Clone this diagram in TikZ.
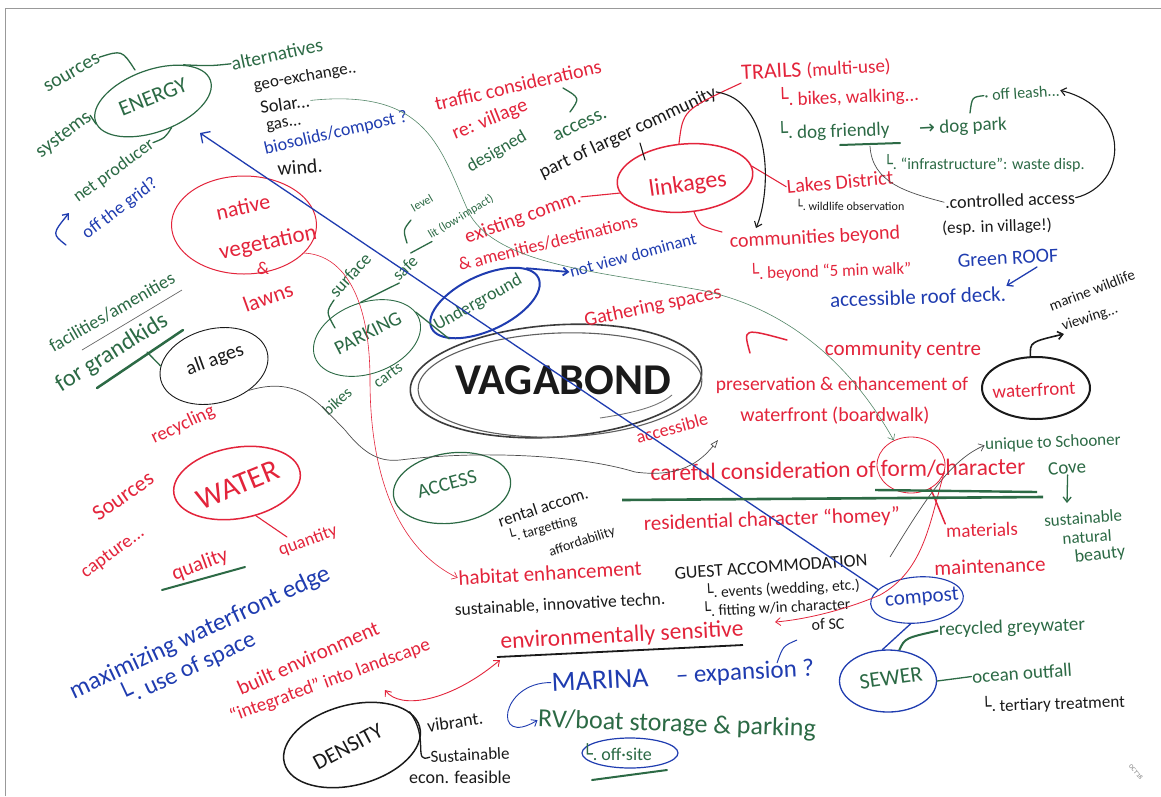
\documentclass[tikz,border=0pt]{standalone}
\usepackage{fontspec}
\setmainfont{Carlito}
\newfontfamily\dv{DejaVu Sans}
\usetikzlibrary{shapes.geometric,arrows.meta}
\definecolor{cR}{HTML}{E3243B}
\definecolor{cG}{HTML}{2C6A45}
\definecolor{cB}{HTML}{1F3CB0}
\definecolor{cK}{HTML}{1A1A1A}
\newcommand\fs[1]{\fontsize{#1}{#1}\selectfont}
\newcommand\subL{{\dv └}.}
\tikzset{
  txt/.style={inner sep=0.5pt},
  tR/.style={txt,text=cR}, tG/.style={txt,text=cG},
  tB/.style={txt,text=cB}, tK/.style={txt,text=cK},
  ell/.style={ellipse,inner sep=0pt},
  lR/.style={draw=cR,line width=1.1pt,line cap=round},
  lG/.style={draw=cG,line width=1.3pt,line cap=round},
  lB/.style={draw=cB,line width=1.3pt,line cap=round},
  lK/.style={draw=cK,line width=1.1pt,line cap=round},
  thinR/.style={draw=cR,line width=0.6pt},
  thinG/.style={draw=cG!80!white,line width=0.6pt},
  thinK/.style={draw=black!70,line width=0.7pt},
  arr/.style={-{Straight Barb[length=5pt,width=8pt]}},
  barr/.style={{Straight Barb[length=5pt,width=8pt]}-{Straight Barb[length=5pt,width=8pt]}},
}
\begin{document}
\begin{tikzpicture}[x=1pt,y=-1pt]
\useasboundingbox (0,0) rectangle (1161,796);
\fill[white] (0,0) rectangle (1161,796);
\draw[black!40,line width=1pt] (5,796) -- (5,8) -- (1161,8);

% ---------- ellipses ----------
\node[ell,draw=cG,line width=1.2pt,rotate=20,minimum width=122,minimum height=62] (eEnergy) at (153,101) {};
\node[ell,draw=cR,line width=1pt,minimum width=145,minimum height=98] (eNative) at (244,225) {};
\node[ell,draw=cK,line width=0.9pt,rotate=15,minimum width=110,minimum height=74] (eAll) at (214,366) {};
\node[ell,draw=cG,line width=0.9pt,rotate=20,minimum width=111,minimum height=71] (ePark) at (367,338) {};
\node[ell,draw=cB,line width=2pt,rotate=25,minimum width=118,minimum height=55] (eUnder) at (485,303) {};
\node[ell,draw=cK!85,line width=1.6pt,rotate=4,minimum width=292,minimum height=112] (eVag) at (556,381) {};
\draw[cK!70,line width=1.1pt,rotate around={2:(560,385)}] (560,385) ellipse [x radius=142, y radius=52];
\draw[cK!60,line width=0.9pt] (600,418) .. controls (640,412) and (660,405) .. (672,395);
\node[ell,draw=cR,line width=1.5pt,rotate=5,minimum width=136,minimum height=68] (eLink) at (685,178) {};
\node[ell,draw=cG,line width=1.2pt,rotate=8,minimum width=118,minimum height=70] (eAccess) at (452,488) {};
\node[ell,draw=cR,line width=1.5pt,rotate=10,minimum width=128,minimum height=71] (eWater) at (237,483) {};
\node[ell,draw=cK,line width=1.5pt,rotate=15,minimum width=140,minimum height=80] (eDens) at (352,745) {};
\node[ell,draw=cK,line width=2pt,minimum width=108,minimum height=62] (eWf) at (1036,388) {};
\node[ell,draw=cR,line width=0.8pt,minimum width=68,minimum height=56] (eForm) at (911,465) {};
\node[ell,draw=cB,line width=1.1pt,rotate=5,minimum width=93,minimum height=46] (eComp) at (917,600) {};
\node[ell,draw=cB,line width=1.3pt,minimum width=97,minimum height=62] (eSewer) at (888,681) {};
\node[ell,draw=cB,line width=1.2pt,minimum width=96,minimum height=30] (eOff) at (630,753) {};

% ---------- text: top left ----------
\node[tG,font=\fs{22},rotate=22] (tEnergy) at (153,97) {ENERGY};
\node[tG,font=\fs{20},rotate=30] (tSourcesG) at (72,73) {sources};
\node[tG,font=\fs{19.5},rotate=12] (tAlt) at (277,54) {alternatives};
\node[tG,font=\fs{20},rotate=37] (tSystems) at (64,135) {systems};
\node[tG,font=\fs{18},rotate=36] (tNet) at (114,171) {net producer};
\node[tB,font=\fs{18},rotate=37] (tGrid) at (120,209) {off the grid?};
\node[tK,font=\fs{17},rotate=10] (tGeo) at (305,77) {geo-exchange..};
\node[tK,font=\fs{18.5},rotate=8] (tSolar) at (285,104) {Solar...};
\node[tK,font=\fs{17},rotate=10] (tGas) at (284,125) {gas...};
\node[tB,font=\fs{18},rotate=13] (tBio) at (336,133) {biosolids/compost ?};
\node[tK,font=\fs{20},rotate=5] (tWind) at (300,167) {wind.};
\node[tR,font=\fs{22},rotate=12] (tNative) at (243,207) {native};
\node[tR,font=\fs{23},rotate=12] (tVeg) at (268,243) {vegetation};
\node[tR,font=\fs{18}] (tAmp) at (263,268) {\&};
\node[tR,font=\fs{22},rotate=20] (tLawns) at (268,297) {lawns};
\node[tG,font=\fs{18.5},rotate=30] (tFac) at (112,312) {facilities/amenities};
\node[tG,font=\fs{24},rotate=32] (tGrand) at (112,353) {for grandkids};
\node[tK,font=\fs{20},rotate=20] (tAll) at (215,360) {all ages};
\node[tR,font=\fs{19},rotate=25] (tRecyc) at (183,425) {recycling};
\node[tR,font=\fs{22},rotate=35] (tSourcesR) at (123,496) {Sources};
\node[tR,font=\fs{19},rotate=36] (tCapt) at (113,553) {capture...};
\node[tR,font=\fs{30},rotate=22] (tWater) at (238,485) {WATER};
\node[tR,font=\fs{21},rotate=20] (tQual) at (200,565) {quality};
\node[tR,font=\fs{18},rotate=20] (tQuant) at (308,541) {quantity};
\node[tB,font=\fs{25},rotate=25] (tMax) at (200,633) {maximizing waterfront edge};
\node[tB,font=\fs{24},rotate=25] (tUse) at (187,667) {\subL\ use of space};
\node[tR,font=\fs{21},rotate=24] (tBuilt) at (308,658) {built environment};
\node[tR,font=\fs{19},rotate=20] (tInteg) at (330,681) {“integrated” into landscape};
\node[tK,font=\fs{22},rotate=28] (tDens) at (348,747) {DENSITY};
\node[tK,font=\fs{18},rotate=8] (tVib) at (455,722) {vibrant.};
\node[tK,font=\fs{17},rotate=3] (tSust) at (470,755) {Sustainable};
\node[tK,font=\fs{18}] (tEcon) at (460,777) {econ. feasible};

% ---------- centre ----------
\node[tK,font=\fs{44}\bfseries] (tVag) at (563,380) {VAGABOND};
\node[tG,font=\fs{20},rotate=15] (tAccess) at (447,484) {ACCESS};
\node[tG,font=\fs{20},rotate=27] (tPark) at (368,333) {PARKING};
\node[tG,font=\fs{18},rotate=48] (tSurf) at (350,275) {surface};
\node[tG,font=\fs{17},rotate=45] (tSafe) at (405,268) {safe};
\node[tG,font=\fs{12},rotate=30] (tLevel) at (422,203) {level};
\node[tG,font=\fs{12},rotate=31] (tLit) at (461,217) {lit (low·impact)};
\node[tG,font=\fs{18},rotate=29] (tUnder) at (478,303) {Underground};
\node[tG,font=\fs{16},rotate=36] (tCarts) at (388,375) {carts};
\node[tG,font=\fs{16},rotate=42] (tBikes) at (337,401) {bikes};
\node[tR,font=\fs{20},rotate=13] (tTraffic) at (518,85) {traffic considerations};
\node[tR,font=\fs{20},rotate=22] (tVillage) at (490,120) {re: village};
\node[tG,font=\fs{18},rotate=30] (tDesigned) at (497,152) {designed};
\node[tG,font=\fs{20},rotate=25] (tAccessS) at (580,125) {access.};
\node[tK,font=\fs{19},rotate=25] (tPart) at (628,133) {part of larger community};
\node[tR,font=\fs{24},rotate=8] (tLink) at (688,185) {linkages};
\node[tR,font=\fs{20},rotate=20] (tExist) at (523,218) {existing comm.};
\node[tR,font=\fs{18},rotate=14] (tAmen) at (548,243) {\& amenities/destinations};
\node[tB,font=\fs{17},rotate=15] (tNotView) at (633,255) {not view dominant};

% ---------- top right ----------
\node[tR,font=\fs{22},rotate=3] (tTrails) at (816,70) {TRAILS {\fs{19}(multi-use)}};
\node[tR,font=\fs{19},rotate=2] (tBikesW) at (848,96) {\subL\ bikes, walking...};
\node[tG,font=\fs{19},rotate=2] (tDog) at (833,130) {\subL\ dog friendly};
\node[tG,font=\fs{19},rotate=3] (tDogPark) at (963,127) {{\dv→} dog park};
\node[tG,font=\fs{16}] (tInfra) at (984,163) {\subL\ “infrastructure”: waste disp.};
\node[tG,font=\fs{16},rotate=4] (tLeash) at (1022,93) {· off leash...};
\node[tK,font=\fs{18},rotate=2] (tCtrl) at (1010,200) {.controlled access};
\node[tK,font=\fs{17},rotate=2] (tEsp) at (997,227) {(esp. in village!)};
\node[tR,font=\fs{20},rotate=5] (tLakes) at (840,182) {Lakes District};
\node[tK,font=\fs{12}] (tWild) at (850,205) {\subL\ wildlife observation};
\node[tR,font=\fs{20},rotate=3] (tCommB) at (815,238) {communities beyond};
\node[tR,font=\fs{17},rotate=2] (tBeyond) at (830,270) {\subL\ beyond “5 min walk”};
\node[tB,font=\fs{20},rotate=3] (tGreen) at (1008,258) {Green ROOF};
\node[tB,font=\fs{21},rotate=2] (tDeck) at (918,297) {accessible roof deck.};
\node[tK,font=\fs{15},rotate=21] (tMarine) at (1092,290) {marine wildlife};
\node[tK,font=\fs{15},rotate=18] (tView) at (1090,318) {viewing...};

% ---------- right middle ----------
\node[tR,font=\fs{20},rotate=12] (tGather) at (653,307) {Gathering spaces};
\node[tR,font=\fs{21}] (tCentre) at (903,350) {community centre};
\node[tR,font=\fs{19.5}] (tPres) at (842,385) {preservation \& enhancement of};
\node[tR,font=\fs{19},rotate=3] (tWf) at (1034,390) {waterfront};
\node[tR,font=\fs{18},rotate=15] (tAccessible) at (672,428) {accessible};
\node[tR,font=\fs{20}] (tBoard) at (835,416) {waterfront (boardwalk)};
\node[tR,font=\fs{23.5},rotate=1] (tCareful) at (838,470) {careful consideration of form/character};
\node[tR,font=\fs{21},rotate=2] (tResid) at (772,520) {residential character “homey”};
\node[tG,font=\fs{17},rotate=2] (tUnique) at (1053,443) {unique to Schooner};
\node[tG,font=\fs{19},rotate=5] (tCove) at (1067,468) {Cove};
\node[tG,font=\fs{17},rotate=4] (tSustN) at (1083,518) {sustainable};
\node[tG,font=\fs{17},rotate=4] (tNat) at (1087,537) {natural};
\node[tG,font=\fs{18},rotate=6] (tBeauty) at (1100,555) {beauty};
\node[tR,font=\fs{19},rotate=2] (tMat) at (982,530) {materials};
\node[tR,font=\fs{21},rotate=2] (tMaint) at (990,566) {maintenance};

% ---------- bottom ----------
\node[tR,font=\fs{21},rotate=3] (tHab) at (550,573) {habitat enhancement};
\node[tK,font=\fs{17.5},rotate=3] (tSusInn) at (560,605) {sustainable, innovative techn.};
\node[tR,font=\fs{23.5},rotate=3] (tEnv) at (622,636) {environmentally sensitive};
\node[tK,font=\fs{17},rotate=18] (tRental) at (543,507) {rental accom.};
\node[tK,font=\fs{14},rotate=15] (tTarg) at (542,528) {\subL\ targetting};
\node[tK,font=\fs{14},rotate=18] (tAfford) at (582,542) {affordability};
\node[tK,font=\fs{18},rotate=4] (tGuest) at (771,567) {GUEST ACCOMMODATION};
\node[tK,font=\fs{15.5},rotate=3] (tEvents) at (782,588) {\subL\ events (wedding, etc.)};
\node[tK,font=\fs{15.5},rotate=3] (tFit) at (776,607) {\subL\ fitting w/in character};
\node[tK,font=\fs{16},rotate=3] (tOfSC) at (828,624) {of SC};
\node[tB,font=\fs{28},rotate=3] (tMarina) at (600,680) {MARINA};
\node[tB,font=\fs{25},rotate=3] (tExp) at (745,673) {– expansion ?};
\node[tG,font=\fs{26},rotate=-2] (tRV) at (677,725) {RV/boat storage \& parking};
\node[tG,font=\fs{18}] (tOff) at (617,752) {\subL\ off·site};
\node[tB,font=\fs{21},rotate=5] (tComp) at (922,598) {compost};
\node[tG,font=\fs{22},rotate=8] (tSewer) at (891,678) {SEWER};
\node[tG,font=\fs{19},rotate=2] (tGrey) at (1012,628) {recycled greywater};
\node[tG,font=\fs{19},rotate=4] (tOcean) at (1022,673) {ocean outfall};
\node[tK,font=\fs{17},rotate=2] (tTert) at (1053,703) {\subL\ tertiary treatment};
\node[txt,text=black!55,font=\fs{6},rotate=-50] (tSig) at (1136,772) {OCT’18};

% ---------- connectors ----------
\coordinate (cSrcEnd) at (135,70);
\draw[lG] (tSourcesG.east) .. controls (122,50) .. (cSrcEnd);
\draw[lG] (eEnergy.30) .. controls (210,66) .. (tAlt.west);
\draw[lG] (tSystems.east) -- (eEnergy.182);
\draw[lG] (eEnergy.285) .. controls (165,138) .. (tNet.east);
\coordinate (cGridA) at (66,245);
\coordinate (cGridB) at (69,213);
\draw[lB,arr] (cGridA) .. controls (52,234) .. (cGridB);

\coordinate (cBlueTip) at (200,133);
\draw[draw=cB,line width=1.3pt,{Straight Barb[length=7pt,width=14pt]}-] (cBlueTip) -- (eComp.160);

\draw[thinG,-{Straight Barb[length=5pt,width=8pt]}] (tSolar.east) .. controls (430,88) and (440,150) .. (470,215)
   .. controls (500,265) and (600,272) .. (700,290) .. controls (800,310) and (860,380) .. (eForm.125);

\draw[thinR,arr] (eNative.-25) .. controls (345,255) and (370,300) .. (370,380) .. controls (370,480) and (400,550) .. (tHab.west);

\coordinate (cAccArr) at (718,440);
\draw[thinK,-{Triangle[open,length=8pt,width=6pt]}] (eAll.-50) .. controls (300,375) and (320,405) .. (345,430)
   .. controls (365,455) and (380,462) .. (400,460) .. controls (480,450) and (580,455) .. (635,472)
   .. controls (680,478) and (700,462) .. (cAccArr);

\coordinate (cGrandA) at (147,352);
\draw[lG] (cGrandA) -- (eAll.165);
\draw[draw=black!60,line width=0.7pt] (82,350) -- (182,290);
\draw[draw=cG,line width=2.5pt,line cap=round] (97,388) -- (183,330);

\coordinate (cQuantA) at (287,537);
\draw[lR] (eWater.-70) -- (cQuantA);
\draw[draw=cG,line width=2pt,line cap=round] (162,590) -- (245,567);

\coordinate (cIntA) at (385,690);
\coordinate (cEnvA) at (500,660);
\draw[thinR,line width=0.9pt,barr] (cIntA) .. controls (400,710) and (450,702) .. (cEnvA);

\draw[lK,line width=1.3pt] (eDens.15) .. controls (430,738) and (412,764) .. (tSust.west);

\draw[draw=cB,line width=0.9pt,arr] (tMarina.west) .. controls (500,682) and (492,748) .. (tRV.west);
\coordinate (cExpA) at (797,640);
\coordinate (cExpB) at (777,663);
\draw[draw=cB,line width=1pt] (cExpA) .. controls (783,646) .. (cExpB);

\draw[lB] (eComp.250) -- (eSewer.100);
\draw[draw=cG,line width=2pt] (eSewer.70) .. controls (905,638) .. (tGrey.west);
\draw[lG] (eSewer.east) -- (tOcean.west);

\draw[lR] (tExist.east) -- (eLink.188);
\draw[lR] (eLink.5) -- (tLakes.west);
\coordinate (cCommA) at (722,232);
\draw[lR] (eLink.-80) .. controls (700,226) .. (cCommA);
\draw[lR] (eLink.95) .. controls (683,110) .. (tTrails.south west);

\coordinate (cCommArr) at (756,228);
\draw[lK,arr] (tPart.east) .. controls (772,100) and (772,190) .. (cCommArr);
\coordinate (cTickA) at (640,143);
\coordinate (cTickB) at (645,160);
\draw[lK] (cTickA) -- (cTickB);
\coordinate (cBrA) at (563,88);
\coordinate (cBrB) at (570,112);
\draw[lG] (cBrA) .. controls (580,98) .. (cBrB);

\draw[draw=cG,line width=2pt,line cap=round] (840,145) -- (900,143);
\coordinate (cFriend) at (870,146);
\draw[thinK] (cFriend) .. controls (872,182) and (905,192) .. (tCtrl.west);
\draw[lK,arr] (tCtrl.east) .. controls (1128,185) and (1132,108) .. (tLeash.east);
\coordinate (cLeashA) at (970,113);
\draw[lG] (cLeashA) .. controls (972,97) .. (tLeash.west);
\coordinate (cRoofA) at (1037,267);
\draw[lB,arr] (cRoofA) -- (tDeck.north east);
\draw[lK,line width=1.6pt,arr] (eWf.100) .. controls (1030,342) .. (tView.south west);
\coordinate (cGaA) at (750,353);
\coordinate (cGaB) at (787,340);
\draw[lR,line width=1.5pt] (cGaA) .. controls (743,328) .. (cGaB);
\coordinate (cCoveArr) at (1067,503);
\draw[lG,arr] (tCove.south) -- (cCoveArr);
\coordinate (cUniqA) at (890,557);
\draw[thinK,arr] (cUniqA) .. controls (925,500) and (950,460) .. (tUnique.west);
\draw[lR,line width=1.5pt] (eForm.-50) -- (tMat.north west);
\coordinate (cFitArr) at (775,622);
\draw[thinR,line width=0.8pt,arr] (eForm.-10) .. controls (930,520) and (925,570) .. (880,595) .. controls (840,612) and (800,620) .. (cFitArr);
\draw[draw=cG,line width=2.6pt] (622,500) -- (1043,497);
\draw[draw=cG,line width=2.4pt] (875,490) -- (1037,492);
\draw[draw=cK,line width=1.8pt] (497,657) -- (743,645);
\draw[draw=cG,line width=2pt,line cap=round] (592,780) -- (667,770);

\draw[lB,line width=1.8pt,arr] (eUnder.15) -- (tNotView.west);
\draw[lG] (ePark.8) -- (eUnder.200);
\draw[lG] (ePark.80) .. controls (385,290) .. (tSafe.south west);
\coordinate (cSurA) at (334,300);
\coordinate (cSurB) at (335,328);
\draw[lG] (cSurA) .. controls (326,312) .. (cSurB);
\coordinate (cLvA) at (411,220);
\coordinate (cLvB) at (407,243);
\draw[lG] (cLvA) .. controls (403,230) .. (cLvB);
\draw[lG] (tSafe.north east) -- (tLit.south west);
\end{tikzpicture}
\end{document}
